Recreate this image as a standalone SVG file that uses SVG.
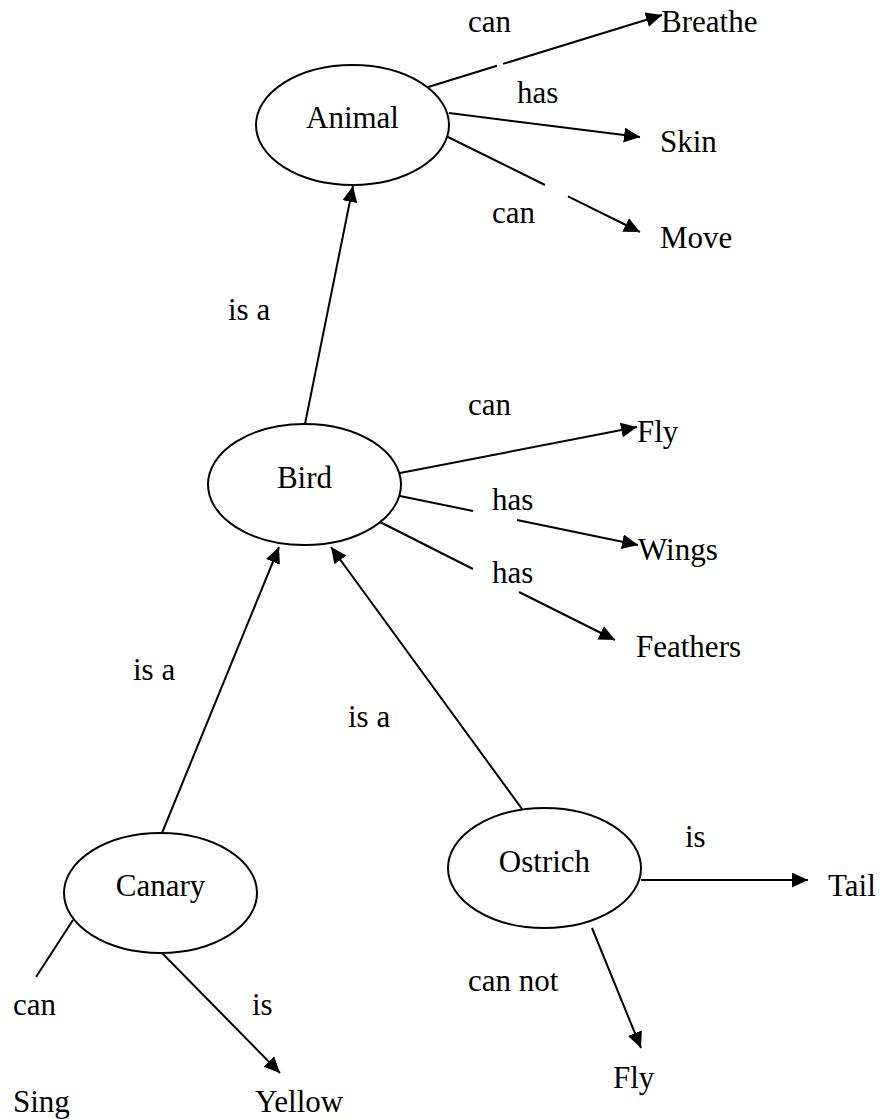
<svg xmlns="http://www.w3.org/2000/svg" width="882" height="1119" viewBox="0 0 882 1119">
  <style>
    .node { fill: #ffffff; stroke: #000000; stroke-width: 2; }
    .edge { fill: none; stroke: #000000; stroke-width: 2; }
    .arrow { marker-end: url(#head); }
    .t { font-family: 'Liberation Serif', 'DejaVu Serif', serif; font-size: 31px; fill: #000000; }
    .mid { text-anchor: middle; }
  </style>
  <defs>
    <marker id="head" markerUnits="userSpaceOnUse" markerWidth="17" markerHeight="16" refX="16" refY="7.5" orient="auto">
      <path d="M0,0 L16,7.5 L0,15 z" fill="#000000"/>
    </marker>
  </defs>

  <rect width="882" height="1119" fill="#ffffff"/>

  <!-- connectors (gaps left where a label sits on the line) -->
  <g id="connectors">
    <path class="edge arrow" d="M425,88 L497,65.8 M503,63.9 L662,15"/>
    <path class="edge arrow" d="M449,113 L640,137"/>
    <path class="edge arrow" d="M448,137 L545,185 M568,196.4 L640,232"/>
    <path class="edge arrow" d="M305,424 L353,186"/>
    <path class="edge arrow" d="M400,473 L637,427"/>
    <path class="edge arrow" d="M400,496 L473,511 M517,520 L638,545"/>
    <path class="edge arrow" d="M376,520 L473,569 M519,592 L615,640"/>
    <path class="edge arrow" d="M162,833 L279,547"/>
    <path class="edge arrow" d="M522,809 L331,547"/>
    <path class="edge" d="M73,920 L36,977"/>
    <path class="edge arrow" d="M162,953 L280,1073"/>
    <path class="edge arrow" d="M641,880 L808,880"/>
    <path class="edge arrow" d="M592,928 L641,1048"/>
  </g>

  <g class="t">
    <!-- concept nodes -->
    <g id="animal">
      <ellipse class="node" cx="352.5" cy="125" rx="96.5" ry="60"/>
      <text class="mid" x="352.5" y="128">Animal</text>
    </g>
    <g id="bird">
      <ellipse class="node" cx="304.5" cy="484.5" rx="96.5" ry="60.5"/>
      <text class="mid" x="304.5" y="488">Bird</text>
    </g>
    <g id="canary">
      <ellipse class="node" cx="160.5" cy="893" rx="96.5" ry="60"/>
      <text class="mid" x="160.5" y="896">Canary</text>
    </g>
    <g id="ostrich">
      <ellipse class="node" cx="544.5" cy="868" rx="96.5" ry="60"/>
      <text class="mid" x="544.5" y="872">Ostrich</text>
    </g>

    <!-- property nodes -->
    <g id="breathe"><text x="661" y="32">Breathe</text></g>
    <g id="skin"><text x="660" y="152">Skin</text></g>
    <g id="move"><text x="660" y="248">Move</text></g>
    <g id="fly"><text x="637" y="442">Fly</text></g>
    <g id="wings"><text x="638" y="560">Wings</text></g>
    <g id="feathers"><text x="636" y="657">Feathers</text></g>
    <g id="sing"><text x="13" y="1112">Sing</text></g>
    <g id="yellow"><text x="255" y="1112">Yellow</text></g>
    <g id="tail"><text x="828" y="896">Tail</text></g>
    <g id="fly-not"><text x="613" y="1088">Fly</text></g>

    <!-- relation labels -->
    <g id="labels">
      <text x="468" y="32">can</text>
      <text x="517" y="103">has</text>
      <text x="492" y="223">can</text>
      <text x="228" y="320">is a</text>
      <text x="468" y="415">can</text>
      <text x="492" y="510">has</text>
      <text x="492" y="583">has</text>
      <text x="133" y="680">is a</text>
      <text x="348" y="727">is a</text>
      <text x="685" y="847">is</text>
      <text x="13" y="1015">can</text>
      <text x="252" y="1015">is</text>
      <text x="468" y="991">can not</text>
    </g>
  </g>
</svg>
